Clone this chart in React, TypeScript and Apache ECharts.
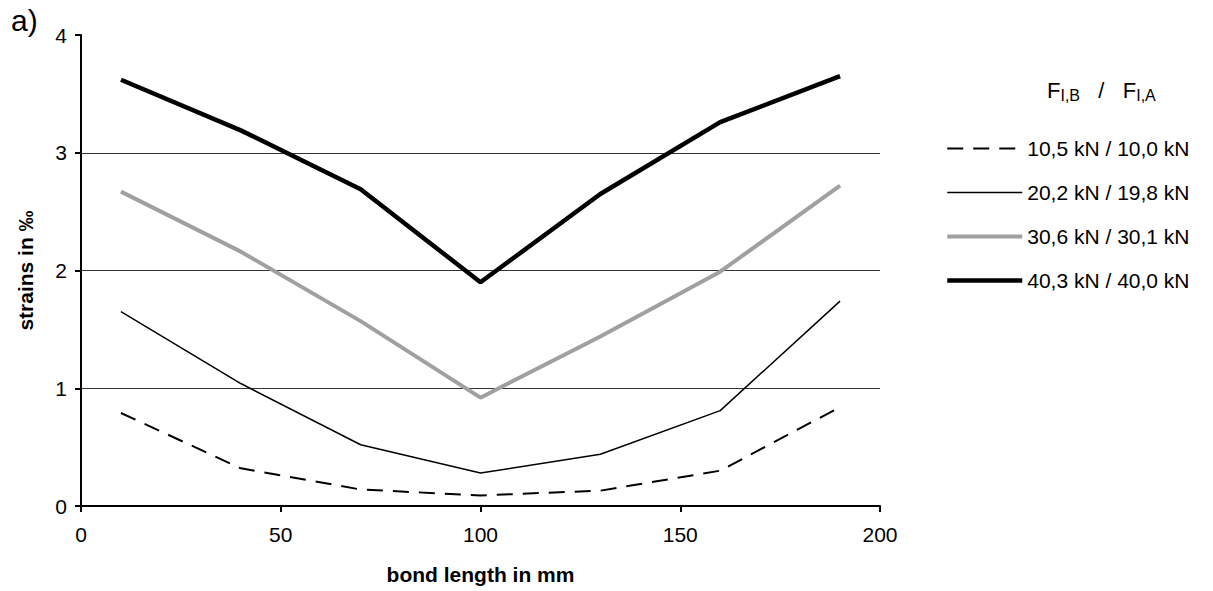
import React, { useEffect, useRef } from "react";
import * as echarts from "echarts";

const bondLength = [10, 40, 70, 100, 130, 160, 190];
const seriesNames = [
  "10,5 kN / 10,0 kN",
  "20,2 kN / 19,8 kN",
  "30,6 kN / 30,1 kN",
  "40,3 kN / 40,0 kN",
];
const strains10 = [0.79, 0.32, 0.14, 0.09, 0.13, 0.3, 0.84];
const strains20 = [1.65, 1.04, 0.52, 0.28, 0.44, 0.81, 1.74];
const strains30 = [2.67, 2.16, 1.57, 0.92, 1.44, 1.99, 2.72];
const strains40 = [3.62, 3.19, 2.69, 1.9, 2.65, 3.26, 3.65];

const FONT = "'Liberation Sans', Arial, sans-serif";

export default function App() {
  const ref = useRef<HTMLDivElement>(null);
  useEffect(() => {
    if (!ref.current) return;
    const chart = echarts.init(ref.current, null, { renderer: "svg" });
    const pts = (vals: number[]) => bondLength.map((x, i) => [x, vals[i]]);
    const styles = [
      { color: "#000", width: 2, type: [16, 10] as any },
      { color: "#000", width: 1.5, type: "solid" },
      { color: "#a0a0a0", width: 4, type: "solid" },
      { color: "#000", width: 4.5, type: "solid" },
    ];
    const data = [strains10, strains20, strains30, strains40];
    chart.setOption({
      animation: false,
      backgroundColor: "#fff",
      textStyle: { fontFamily: FONT },
      grid: { left: 81, right: 333, top: 35, bottom: 85 },
      legend: {
        orient: "vertical",
        left: 945,
        top: 138,
        padding: 0,
        itemWidth: 75,
        itemHeight: 14,
        itemGap: 23,
        itemStyle: { opacity: 0 },
        lineStyle: { width: "inherit" },
        textStyle: { fontSize: 21, color: "#000", fontFamily: FONT },
        data: seriesNames,
      },
      xAxis: {
        type: "value",
        min: 0,
        max: 200,
        interval: 50,
        name: "bond length in mm",
        nameLocation: "middle",
        nameGap: 58,
        nameTextStyle: { fontSize: 21, fontWeight: "bold", color: "#000" },
        axisLine: { show: true, lineStyle: { color: "#000", width: 2 } },
        axisTick: { show: true, length: 6, lineStyle: { color: "#000", width: 2 } },
        axisLabel: { fontSize: 21, color: "#000", margin: 18 },
        splitLine: { show: false },
      },
      yAxis: {
        type: "value",
        min: 0,
        max: 4,
        interval: 1,
        name: "strains in ‰",
        nameLocation: "middle",
        nameRotate: 90,
        nameGap: 45,
        nameTextStyle: { fontSize: 21, fontWeight: "bold", color: "#000" },
        axisLine: { show: true, lineStyle: { color: "#000", width: 2 } },
        axisTick: { show: true, length: 6, lineStyle: { color: "#000", width: 2 } },
        axisLabel: { fontSize: 21, color: "#000", margin: 14 },
        splitLine: {
          show: true,
          lineStyle: { color: ["#000", "#333", "#333", "#333", "rgba(0,0,0,0)"], width: 1 },
        },
      },
      graphic: [
        {
          type: "text",
          left: 11,
          top: 5,
          style: { text: "a)", fontSize: 30, fill: "#000", fontFamily: FONT },
        },
        {
          type: "text",
          left: 1047,
          top: 77,
          style: {
            text: "F{sub|I,B}   /   F{sub|I,A}",
            fontSize: 22,
            fill: "#000",
            fontFamily: FONT,
            lineHeight: 26,
            rich: {
              sub: { fontSize: 16, lineHeight: 16, verticalAlign: "bottom", fontFamily: FONT, fill: "#000" },
            },
          },
        },
      ],
      series: data.map((vals, i) => ({
        name: seriesNames[i],
        type: "line",
        data: pts(vals),
        symbol: "none",
        showSymbol: false,
        lineStyle: styles[i],
        itemStyle: { color: styles[i].color },
        z: 2 + i,
      })),
    });
    return () => chart.dispose();
  }, []);
  return (
    <div
      ref={ref}
      style={{ position: "fixed", left: 0, top: 0, width: 1213, height: 591, background: "#fff" }}
    />
  );
}
